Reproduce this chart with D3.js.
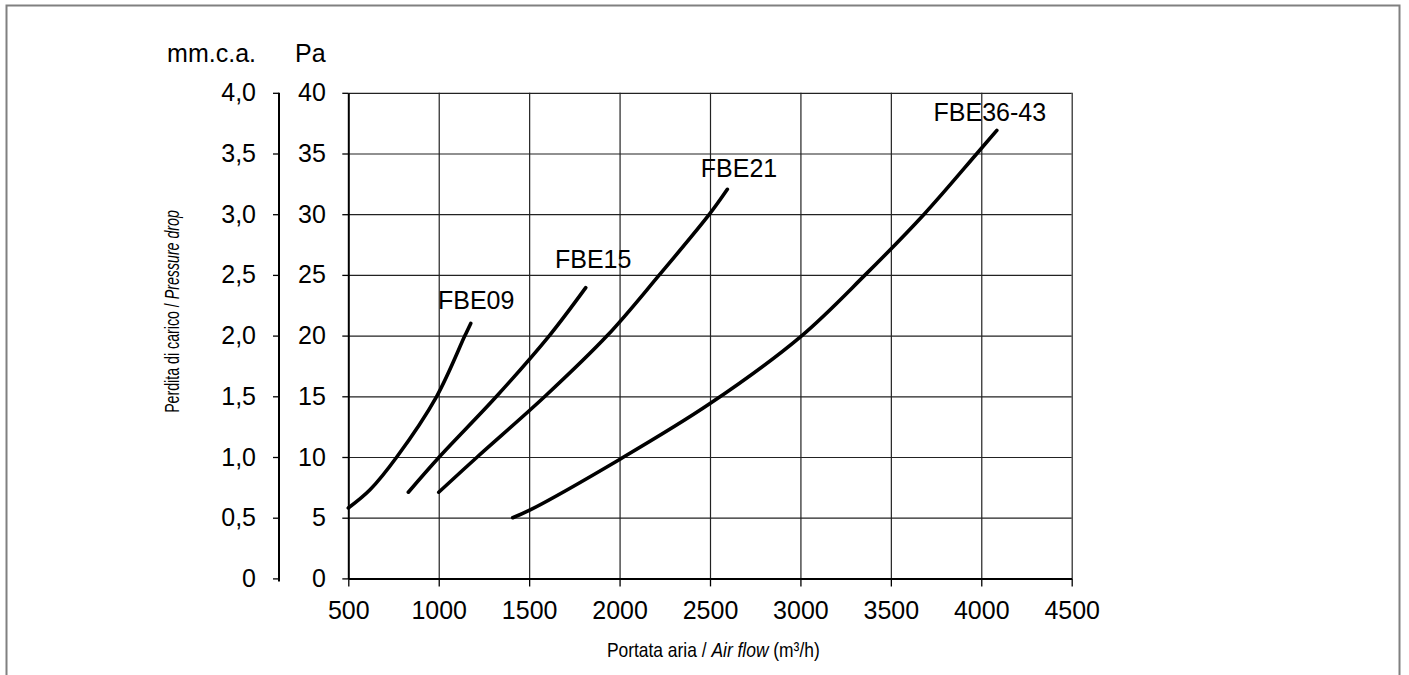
<!DOCTYPE html>
<html>
<head>
<meta charset="utf-8">
<script src="https://cdn.jsdelivr.net/npm/d3@7"></script>
<style>
  body { margin: 0; background: #fff; }
  svg { display: block; }
  text { font-family: "Liberation Sans", Arial, Helvetica, sans-serif; fill: #000; }
</style>
</head>
<body>
<svg id="main" width="1409" height="675"></svg>
<script>
"use strict";

//data (air flow m3/h, pressure drop Pa)
const fbe09 = [[500, 5.8], [620, 7.3], [768, 10], [989, 15], [1145, 20], [1177, 21.0]];
const fbe15 = [[832, 7.1], [1003, 10], [1320, 15], [1612, 20], [1813, 23.95]];
const fbe21 = [[1000, 7.1], [1213, 10], [1588, 15], [1932, 20], [2220, 25], [2497, 30], [2596, 32.05]];
const fbe36 = [[1409, 5.0], [1500, 5.6], [2000, 9.8], [2500, 14.4], [3000, 19.9], [3358, 25], [3684, 30], [3976, 35], [4086, 36.9]];

const seriesNames = ["FBE09", "FBE15", "FBE21", "FBE36-43"];
const seriesValues = [fbe09, fbe15, fbe21, fbe36];
//where each name sits, in data units
const labelAt = [[996, 22.2], [1643, 25.6], [2449, 33.1], [3736, 37.7]];

const xTicks = [500, 1000, 1500, 2000, 2500, 3000, 3500, 4000, 4500];
const paTicks = [0, 5, 10, 15, 20, 25, 30, 35, 40];
const mmTicks = [0, 0.5, 1, 1.5, 2, 2.5, 3, 3.5, 4];
const mmLabels = ["0", "0,5", "1,0", "1,5", "2,0", "2,5", "3,0", "3,5", "4,0"];

//layout
const plot = { left: 348.3, right: 1071.7, top: 92.8, bottom: 578.4 };
const mmAxisX = 279;
const bigFont = 25;

const mySvg = d3.select("#main");

//outer frame
mySvg.append("rect")
  .attr("x", 6.5).attr("y", 5.5)
  .attr("width", 1393).attr("height", 720)
  .attr("fill", "none")
  .attr("stroke", "#808080")
  .attr("stroke-width", 2);

const x = d3.scaleLinear().domain([500, 4500]).range([plot.left, plot.right]);
const y = d3.scaleLinear().domain([0, 40]).range([plot.bottom, plot.top]);
const yMm = d3.scaleLinear().domain([0, 4]).range([plot.bottom, plot.top]);

// grid
mySvg.append("g")
  .attr("transform", `translate(0,${plot.bottom})`)
  .call(d3.axisBottom(x).tickValues(xTicks.slice(1)).tickSize(-(plot.bottom - plot.top)).tickFormat(""))
  .call(g => g.select(".domain").remove())
  .selectAll("line").attr("stroke", "#222").attr("stroke-width", 1.2);

mySvg.append("g")
  .attr("transform", `translate(${plot.left},0)`)
  .call(d3.axisLeft(y).tickValues(paTicks.slice(1)).tickSize(-(plot.right - plot.left)).tickFormat(""))
  .call(g => g.select(".domain").remove())
  .selectAll("line").attr("stroke", "#222").attr("stroke-width", 1.2);

// x axis
const xAxis = mySvg.append("g")
  .attr("transform", `translate(0,${plot.bottom})`)
  .call(d3.axisBottom(x).tickValues(xTicks).tickSize(8).tickSizeOuter(0).tickPadding(15)
    .tickFormat(d => String(d)));

// Pa axis
const paAxis = mySvg.append("g")
  .attr("transform", `translate(${plot.left},0)`)
  .call(d3.axisLeft(y).tickValues(paTicks).tickSize(6).tickSizeOuter(0).tickPadding(16.5)
    .tickFormat(d => String(d)));

// mm.c.a. axis
const mmAxis = mySvg.append("g")
  .attr("transform", `translate(${mmAxisX},0)`)
  .call(d3.axisLeft(yMm).tickValues(mmTicks).tickSize(6).tickSizeOuter(0).tickPadding(17)
    .tickFormat((d, i) => mmLabels[i]));

[xAxis, paAxis, mmAxis].forEach(g => {
  g.selectAll("text").attr("font-size", bigFont).attr("font-family", null);
  g.selectAll("line").attr("stroke", "#000").attr("stroke-width", 1.3);
  g.select(".domain").attr("stroke", "#000").attr("stroke-width", 2);
});
mmAxis.select(".domain").attr("d", `M0,${plot.top}V${plot.bottom + 3}`);

// unit headers
mySvg.append("text")
  .attr("x", 256).attr("y", 62)
  .attr("text-anchor", "end")
  .attr("font-size", bigFont)
  .text("mm.c.a.");
mySvg.append("text")
  .attr("x", 295).attr("y", 62)
  .attr("font-size", bigFont)
  .text("Pa");

// curves
const line = d3.line()
  .x(d => x(d[0]))
  .y(d => y(d[1]))
  .curve(d3.curveCatmullRom.alpha(0.5));

mySvg.selectAll(".curve")
  .data(seriesValues)
  .enter().append("path")
  .attr("class", "curve")
  .attr("d", line)
  .attr("fill", "none")
  .attr("stroke", "#000")
  .attr("stroke-width", 3.6)
  .attr("stroke-linecap", "round");

mySvg.selectAll(".curveLabel")
  .data(seriesNames)
  .enter().append("text")
  .attr("class", "curveLabel")
  .attr("x", (d, i) => x(labelAt[i][0]))
  .attr("y", (d, i) => y(labelAt[i][1]))
  .attr("font-size", bigFont)
  .text(d => d);

//axis titles, squeezed to the narrow face of the original
const fitWidth = (sel, target) => {
  const len = sel.node().getComputedTextLength();
  return len > 0 ? target / len : 1;
};

const xTitle = mySvg.append("text")
  .attr("text-anchor", "middle")
  .attr("font-size", 21);
xTitle.append("tspan").text("Portata aria / ");
xTitle.append("tspan").attr("font-style", "italic").text("Air flow");
xTitle.append("tspan").text(" (m³/h)");
xTitle.attr("transform", `translate(713.3,657.3) scale(${fitWidth(xTitle, 213)},1)`);

const yTitle = mySvg.append("text")
  .attr("text-anchor", "middle")
  .attr("font-size", 21);
yTitle.append("tspan").text("Perdita di carico / ");
yTitle.append("tspan").attr("font-style", "italic").text("Pressure drop");
yTitle.attr("transform", `translate(179,311.5) rotate(-90) scale(${fitWidth(yTitle, 203)},1)`);
</script>
</body>
</html>
